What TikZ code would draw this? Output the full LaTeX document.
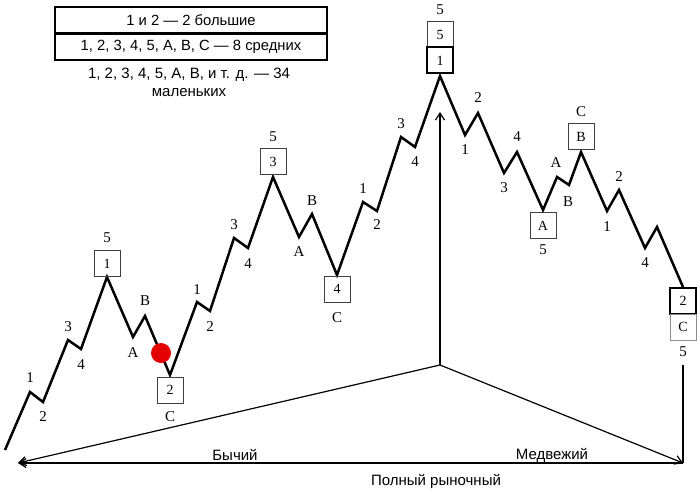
\documentclass[tikz,border=0pt]{standalone}
\usepackage{fontspec}
\setmainfont{Liberation Serif}
\setsansfont{Liberation Sans}
\usetikzlibrary{arrows.meta}

\tikzset{
  wave/.style={line width=2.5pt,line join=miter},
  lbl/.style={font=\fontsize{15}{15}\selectfont,inner sep=0pt},
  wbox/.style={draw=black!75,line width=1pt,minimum width=26pt,minimum height=26pt,
    inner sep=0pt,font=\fontsize{14}{14}\selectfont},
  thickbox/.style={wbox,draw=black,line width=2pt},
  axis/.style={line width=1.2pt},
  tag/.style={font=\sffamily\fontsize{15}{15}\selectfont,inner sep=0pt},
  legend/.style={draw,line width=1.6pt,minimum width=272pt,minimum height=26.5pt,
    inner sep=0pt,font=\sffamily\fontsize{14.8}{15}\selectfont}
}

\begin{document}
\begin{tikzpicture}[x=1pt,y=-1pt,>={Straight Barb[length=7pt,width=9pt]}]
\useasboundingbox (0,0) rectangle (700,494);

% legend
\node[legend] (big) at (191,20) {1 и 2 --- 2 большие};
\node[legend] (mid) at (191,47) {1, 2, 3, 4, 5, A, B, C --- 8 средних};
\node[font=\sffamily\fontsize{15}{18}\selectfont,align=center,inner sep=0pt] (small) at (189,82)
  {1, 2, 3, 4, 5, A, B, и т. д. --- 34\\маленьких};

% the wave
\draw[wave] (5,450) -- (30,392) -- (43,402) -- (68,340) -- (81,349) -- (107,277)
  -- (133,337) -- (145,316) -- (170,375) -- (197,302) -- (210,311) -- (234,238)
  -- (248,248) -- (273,177) -- (299,237) -- (312,214) -- (337,275) -- (363,202)
  -- (377,211) -- (401,137) -- (415,147) -- (440,76) -- (465,135) -- (478,113)
  -- (504,173) -- (517,152) -- (543,210) -- (557,177) -- (569,185) -- (581,152)
  -- (607,211) -- (619,190) -- (645,248) -- (657,227) -- (683,287);

\fill[red!90!black] (161,353) circle (10pt);

% wave boxes
\node[wbox] (b1) at (107,263.5) {1};
\node[wbox] (b2) at (170,390) {2};
\node[wbox] (b3) at (273,162) {3};
\node[wbox] (b4) at (337,289) {4};
\node[wbox] (top5) at (440,34.5) {5};
\node[thickbox] (top1) at (440,60.5) {1};
\node[wbox] (bA) at (543,225.5) {A};
\node[wbox] (bB) at (581,137) {B};
\node[thickbox] (end2) at (683,300.5) {2};
\node[wbox,draw=black!45] (endC) at (683,327) {C};

% wave labels
\foreach \t/\x/\y [count=\k] in {1/30/378,2/43/417,3/68/327,4/81/365,5/107/238,
    A/133/353,B/145/301,C/170/417,1/197/290,2/210/327,3/234/225,4/248/264,
    5/273/137,A/299/252,B/312/201,C/337/318,1/363/189,2/377/225,3/401/124,
    4/415/162,5/440/10,1/465/150,2/478/98,3/504/188,4/517/137,5/543/250,
    A/556/163,B/568/202,C/581/112,1/607/227,2/619/177,4/645/263}
  \node[lbl] (t\k) at (\x,\y) {\t};
\node[lbl] (last5) at (683,352) {5};

% market axes
\coordinate (o) at (440,365);
\coordinate (up) at (440,112);
\coordinate (bl) at (18,463);
\coordinate (br) at (683,463);
\coordinate (dn) at (683,365);
\draw[axis,->] (o) -- (up);
\draw[axis,->] (o) -- (bl);
\draw[axis,->] (o) -- (br);
\draw[axis,->] (br) -- (bl);
\draw[axis] (dn) -- (br);

\node[tag] (bull) at (235,455) {Бычий};
\node[tag] (bear) at (552,455) {Медвежий};
\node[tag] (full) at (436,481) {Полный рыночный};
\end{tikzpicture}
\end{document}
